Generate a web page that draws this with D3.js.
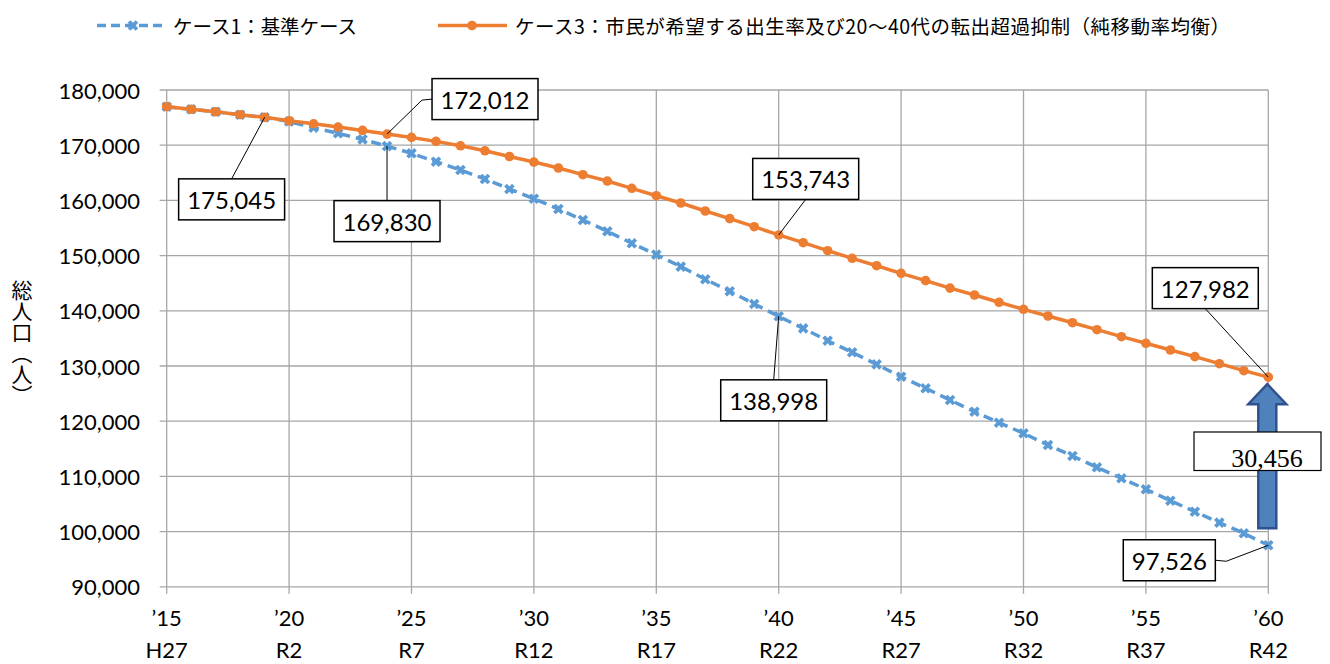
<!DOCTYPE html>
<html>
<head>
<meta charset="utf-8">
<script src="https://cdn.jsdelivr.net/npm/d3@7"></script>
<style>
  body { margin: 0; background: #fff; }
  svg { display: block; }
  .tick-text { font-family: Lato, "Noto Sans", sans-serif; font-size: 22px; fill: #000; }
  .jp { font-family: "Noto Sans CJK JP", sans-serif; fill: #000; }
</style>
</head>
<body>
<svg id="svg" width="1330" height="664"></svg>
<script>
// 年次
const years = d3.range(2015, 2061);

// ケース1：基準ケース
const case1 = [
  176970, 176500, 176060, 175520, 175045, 174280, 173170, 172150, 171060, 169830,
  168530, 167010, 165510, 163880, 162060, 160310, 158440, 156450, 154400, 152230,
  150180, 148010, 145710, 143540, 141240, 138998, 136810, 134580, 132480, 130300,
  128060, 125960, 123840, 121720, 119730, 117810, 115690, 113700, 111650, 109660,
  107660, 105600, 103610, 101620, 99690, 97526
];

// ケース3：市民が希望する出生率及び20〜40代の転出超過抑制（純移動率均衡）
const case3 = [
  176970, 176500, 176060, 175520, 175045, 174430, 173880, 173290, 172680, 172012,
  171410, 170690, 169890, 168990, 167950, 166950, 165870, 164660, 163510, 162190,
  160850, 159530, 158080, 156690, 155240, 153743, 152340, 150890, 149510, 148170,
  146790, 145460, 144110, 142860, 141540, 140270, 139060, 137840, 136580, 135310,
  134110, 132900, 131690, 130420, 129150, 127982
];

const seriesNames = [
  "ケース1：基準ケース",
  "ケース3：市民が希望する出生率及び20〜40代の転出超過抑制（純移動率均衡）"
];

const xTickYears = [2015, 2020, 2025, 2030, 2035, 2040, 2045, 2050, 2055, 2060];
const xTickLabels1 = ["’15", "’20", "’25", "’30", "’35", "’40", "’45", "’50", "’55", "’60"];
const xTickLabels2 = ["H27", "R2", "R7", "R12", "R17", "R22", "R27", "R32", "R37", "R42"];
const yTicks = d3.range(90000, 180001, 10000);
const yTitle = "総人口（人）";

// 吹き出しラベル（どの系列のどの年か、箱の位置は点からのずれ）
const callouts = [
  { s: 0, year: 2019, dx: -33, dy: 82, side: "top" },
  { s: 0, year: 2024, dx: 0, dy: 75, side: "top" },
  { s: 1, year: 2024, dx: 98, dy: -35, side: "left", elbow: [35, -34] },
  { s: 1, year: 2040, dx: 27, dy: -56, side: "bottom" },
  { s: 0, year: 2040, dx: -5, dy: 84, side: "top" },
  { s: 1, year: 2060, dx: -63, dy: -89, side: "bottom" },
  { s: 0, year: 2060, dx: -99, dy: 15, side: "right", elbow: [-42, 16] }
];

const svg = d3.select("#svg");
const colors = ["#5B9BD5", "#ED7D31"];
const series = [case1, case3];

const x = d3.scaleLinear().domain([2015, 2060]).range([166.7, 1268.3]);
const y = d3.scaleLinear().domain([90000, 180000]).range([586.8, 90]);

// グリッド
const grid = svg.append("g");
grid.selectAll(".hg").data(yTicks).enter().append("line")
  .attr("x1", x(2015) - 7).attr("x2", x(2060))
  .attr("y1", d => y(d)).attr("y2", d => y(d))
  .attr("stroke", "#a6a6a6").attr("stroke-width", 1.3);
grid.selectAll(".vg").data(xTickYears).enter().append("line")
  .attr("x1", d => x(d)).attr("x2", d => x(d))
  .attr("y1", y(180000)).attr("y2", y(90000) + 7)
  .attr("stroke", "#a6a6a6").attr("stroke-width", 1.3);

// 軸ラベル
svg.append("g").selectAll("text").data(yTicks).enter().append("text")
  .attr("class", "tick-text")
  .attr("x", 140).attr("y", d => y(d))
  .attr("text-anchor", "end").attr("dominant-baseline", "central")
  .text(d => d3.format(",")(d));

const xl = svg.append("g");
xl.selectAll(".l1").data(xTickYears).enter().append("text")
  .attr("class", "tick-text").attr("text-anchor", "middle")
  .attr("x", d => x(d)).attr("y", 626)
  .text((d, i) => xTickLabels1[i]);
xl.selectAll(".l2").data(xTickYears).enter().append("text")
  .attr("class", "tick-text").attr("text-anchor", "middle")
  .attr("x", d => x(d)).attr("y", 658)
  .text((d, i) => xTickLabels2[i]);

svg.append("text").attr("class", "jp")
  .attr("x", 22).attr("y", 343)
  .attr("text-anchor", "middle")
  .style("writing-mode", "vertical-rl")
  .style("font-size", "21px")
  .text(yTitle);

// 折れ線
const line = d3.line().x((d, i) => x(years[i])).y(d => y(d));
const crossSym = d3.symbol().type(d3.symbolCross).size(70);

svg.append("path").datum(case1)
  .attr("fill", "none").attr("stroke", colors[0]).attr("stroke-width", 3.5)
  .attr("stroke-dasharray", "10,6").attr("d", line);
svg.append("g").selectAll("path").data(case1).enter().append("path")
  .attr("d", crossSym)
  .attr("transform", (d, i) => `translate(${x(years[i])},${y(d)}) rotate(45)`)
  .attr("fill", colors[0]);

svg.append("path").datum(case3)
  .attr("fill", "none").attr("stroke", colors[1]).attr("stroke-width", 3.5)
  .attr("d", line);
svg.append("g").selectAll("circle").data(case3).enter().append("circle")
  .attr("cx", (d, i) => x(years[i])).attr("cy", d => y(d)).attr("r", 4.8)
  .attr("fill", colors[1]);

// 吹き出し
const cg = svg.append("g");
callouts.forEach(c => {
  const i = years.indexOf(c.year);
  const v = series[c.s][i];
  const px = x(c.year), py = y(v);
  const cx = px + c.dx, cy = py + c.dy;
  const t = cg.append("text")
    .attr("x", cx).attr("y", cy)
    .attr("text-anchor", "middle").attr("dominant-baseline", "central")
    .style("font-family", "Lato, sans-serif").style("font-size", "24px")
    .text(d3.format(",")(v));
  const w = t.node().getComputedTextLength() + 17, h = 41;
  let ex = cx, ey = cy;
  if (c.side === "top") ey = cy - h / 2;
  if (c.side === "bottom") ey = cy + h / 2;
  if (c.side === "left") ex = cx - w / 2;
  if (c.side === "right") ex = cx + w / 2;
  const pts = [[px, py]];
  if (c.elbow) pts.push([px + c.elbow[0], py + c.elbow[1]]);
  pts.push([ex, ey]);
  cg.insert("path", "text").attr("d", d3.line()(pts))
    .attr("fill", "none").attr("stroke", "#000").attr("stroke-width", 1);
  cg.insert("rect", "text")
    .attr("x", cx - w / 2).attr("y", cy - h / 2).attr("width", w).attr("height", h)
    .attr("fill", "#fff").attr("stroke", "#000").attr("stroke-width", 1.5);
});

// 差の矢印
const ax = x(2060) - 1;
const yTop = y(case3[case3.length - 1]) + 7;
const yBot = y(case1[case1.length - 1]) - 17;
const sw = 9, hw = 19, hl = 20;
svg.append("path")
  .attr("d", d3.line()([
    [ax - sw, yBot], [ax - sw, yTop + hl], [ax - hw, yTop + hl], [ax, yTop],
    [ax + hw, yTop + hl], [ax + sw, yTop + hl], [ax + sw, yBot]
  ]) + "Z")
  .attr("fill", "#4F81BD").attr("stroke", "#2F528F").attr("stroke-width", 2.5);

const diff = case3[case3.length - 1] - case1[case1.length - 1];
svg.append("rect")
  .attr("x", 1194).attr("y", 432).attr("width", 127).attr("height", 38.5)
  .attr("fill", "#fff").attr("stroke", "#000").attr("stroke-width", 1.2);
svg.append("text")
  .attr("x", 1267).attr("y", 467).attr("text-anchor", "middle")
  .style("font-family", "'Liberation Serif', 'DejaVu Serif', serif").style("font-size", "26px")
  .text(d3.format(",")(diff));

// 凡例
const lg = svg.append("g");
lg.append("line").attr("x1", 97).attr("x2", 167).attr("y1", 25.5).attr("y2", 25.5)
  .attr("stroke", colors[0]).attr("stroke-width", 3.5).attr("stroke-dasharray", "9,5");
lg.append("path").attr("d", crossSym)
  .attr("transform", "translate(133,25.5) rotate(45)").attr("fill", colors[0]);
lg.append("text").attr("class", "jp").attr("x", 173).attr("y", 25.5)
  .attr("dominant-baseline", "central").style("font-size", "19.5px")
  .attr("textLength", 184).attr("lengthAdjust", "spacing").text(seriesNames[0]);

lg.append("line").attr("x1", 438).attr("x2", 507).attr("y1", 25.5).attr("y2", 25.5)
  .attr("stroke", colors[1]).attr("stroke-width", 3.5);
lg.append("circle").attr("cx", 472).attr("cy", 25.5).attr("r", 4.8).attr("fill", colors[1]);
lg.append("text").attr("class", "jp").attr("x", 515).attr("y", 25.5)
  .attr("dominant-baseline", "central").style("font-size", "19.5px")
  .attr("textLength", 715).attr("lengthAdjust", "spacing").text(seriesNames[1]);
</script>
</body>
</html>
